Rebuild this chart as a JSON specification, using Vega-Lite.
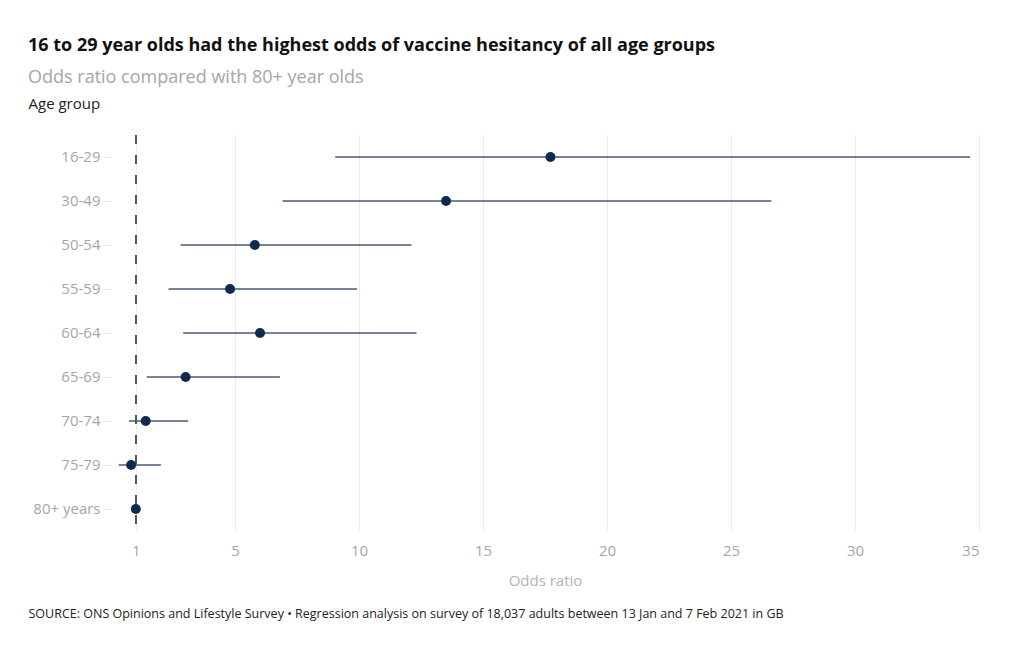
{
  "$schema": "https://vega.github.io/schema/vega-lite/v6.json",
  "autosize": {"type": "none"},
  "width": 868,
  "height": 396,
  "padding": {"left": 111, "top": 135, "right": 41, "bottom": 119},
  "background": "white",
  "title": {
    "text": "16 to 29 year olds had the highest odds of vaccine hesitancy of all age groups",
    "subtitle": "Odds ratio compared with 80+ year olds",
    "anchor": "start",
    "frame": "group",
    "dx": -83,
    "font": "Open Sans",
    "fontSize": 18,
    "fontWeight": "bold",
    "color": "#111111",
    "subtitleFont": "Open Sans",
    "subtitleFontSize": 18,
    "subtitleColor": "#a6a6a6",
    "subtitlePadding": 14,
    "offset": 9
  },
  "data": {
    "values": [
      {"age": "16-29", "or": 17.72, "lo": 9.04, "hi": 34.64},
      {"age": "30-49", "or": 13.51, "lo": 6.92, "hi": 26.63},
      {"age": "50-54", "or": 5.8, "lo": 2.81, "hi": 12.12},
      {"age": "55-59", "or": 4.8, "lo": 2.32, "hi": 9.92},
      {"age": "60-64", "or": 6.01, "lo": 2.91, "hi": 12.32},
      {"age": "65-69", "or": 3.01, "lo": 1.44, "hi": 6.81},
      {"age": "70-74", "or": 1.4, "lo": 0.72, "hi": 3.11},
      {"age": "75-79", "or": 0.81, "lo": 0.31, "hi": 2.01},
      {"age": "80+ years", "or": 1, "lo": 1, "hi": 1}
    ]
  },
  "config": {
    "view": {"stroke": null},
    "font": "Open Sans"
  },
  "encoding": {
    "y": {
      "field": "age",
      "type": "nominal",
      "sort": null,
      "scale": {"paddingInner": 0, "paddingOuter": 0},
      "axis": {
        "title": "Age group",
        "titleAngle": 0,
        "titleAlign": "left",
        "titleBaseline": "middle",
        "titleX": -83,
        "titleY": -32,
        "titleFont": "Open Sans",
        "titleFontSize": 15,
        "titleFontWeight": "normal",
        "titleColor": "#222222",
        "domain": false,
        "ticks": true,
        "tickSize": 8,
        "tickColor": "#e6e6e6",
        "labelPadding": 3,
        "labelFont": "Open Sans",
        "labelFontSize": 15,
        "labelColor": "#a6a6a6",
        "grid": false
      }
    }
  },
  "layer": [
    {
      "mark": {"type": "rule", "color": "#4b5b72", "strokeWidth": 1.5},
      "encoding": {
        "x": {
          "field": "lo",
          "type": "quantitative",
          "scale": {"domain": [0, 35], "nice": false, "zero": false},
          "axis": {
            "title": "Odds ratio",
            "values": [1, 5, 10, 15, 20, 25, 30, 35],
            "domain": false,
            "ticks": false,
            "grid": true,
            "gridColor": "#ececec",
            "gridWidth": 1,
            "labelPadding": 12,
            "labelFont": "Open Sans",
            "labelFontSize": 15,
            "labelColor": "#a6a6a6",
            "titleFont": "Open Sans",
            "titleFontSize": 15,
            "titleFontWeight": "normal",
            "titleColor": "#b3b3b3",
            "titlePadding": 15
          }
        },
        "x2": {"field": "hi"}
      }
    },
    {
      "mark": {"type": "rule", "color": "#555555", "strokeWidth": 1, "strokeDash": [9, 11]},
      "encoding": {
        "x": {
          "datum": 1,
          "type": "quantitative",
          "axis": {
            "orient": "bottom",
            "title": "SOURCE: ONS Opinions and Lifestyle Survey • Regression analysis on survey of 18,037 adults between 13 Jan and 7 Feb 2021 in GB",
            "labels": false,
            "ticks": false,
            "domain": false,
            "grid": false,
            "titleX": -83,
            "titleY": 76,
            "titleAlign": "left",
            "titleBaseline": "top",
            "titleFont": "Open Sans",
            "titleFontSize": 12.5,
            "titleFontWeight": "normal",
            "titleColor": "#222222"
          }
        },
        "y": null
      }
    },
    {
      "mark": {"type": "point", "filled": true, "size": 100, "color": "#0f2a50", "opacity": 1},
      "encoding": {
        "x": {"field": "or", "type": "quantitative", "axis": null}
      }
    }
  ],
  "resolve": {"axis": {"x": "independent"}}
}
